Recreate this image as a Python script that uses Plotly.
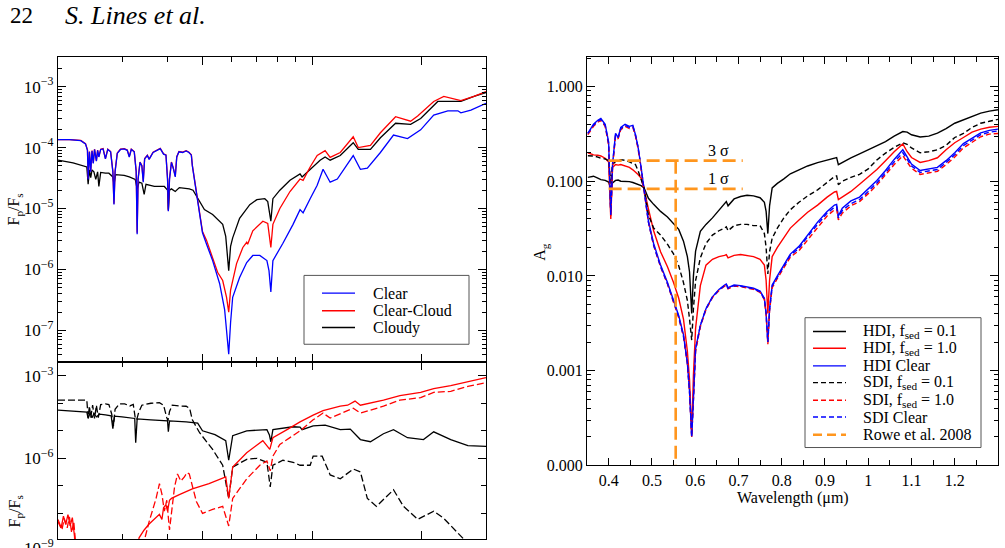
import plotly.graph_objects as go

# ---------------- DATA ----------------
# Left panel, top: F_p/F_s vs wavelength (micron)
CLEAR_TOP = [(0.200,1.35e-4),(0.215,1.35e-4),(0.231,1.30e-4),(0.238,1.15e-4),(0.241,9.0e-5),(0.242,3.0e-5),(0.244,8.5e-5),(0.246,4.0e-5),(0.248,8.8e-5),(0.250,5.5e-5),(0.252,9.3e-5),(0.255,6.0e-5),(0.257,9.0e-5),(0.259,7.0e-5),(0.262,9.3e-5),(0.266,9.5e-5),(0.270,6.5e-5),(0.274,9.3e-5),(0.279,8.5e-5),(0.283,4.0e-5),(0.285,1.16e-5),(0.287,4.0e-5),(0.291,8.0e-5),(0.297,9.3e-5),(0.304,9.5e-5),(0.310,9.0e-5),(0.314,7.0e-5),(0.318,9.3e-5),(0.324,8.5e-5),(0.328,4.0e-5),(0.330,3.8e-6),(0.332,3.0e-5),(0.336,5.7e-5),(0.340,5.0e-5),(0.343,2.7e-5),(0.346,6.5e-5),(0.352,7.4e-5),(0.356,6.4e-5),(0.365,8.3e-5),(0.375,9.0e-5),(0.382,9.6e-5),(0.390,7.8e-5),(0.396,7.5e-5),(0.400,3.0e-5),(0.402,9.0e-6),(0.405,3.0e-5),(0.410,5.7e-5),(0.415,4.5e-5),(0.420,3.3e-5),(0.424,7.0e-5),(0.430,8.5e-5),(0.440,8.3e-5),(0.450,8.8e-5),(0.458,8.3e-5),(0.465,7.5e-5),(0.468,5.0e-5),(0.484,1.3e-5),(0.499,4.0e-6),(0.512,2.6e-6),(0.532,1.4e-6),(0.556,5.9e-7),(0.574,2.2e-7),(0.581,1.0e-7),(0.589,4.1e-8),(0.596,1.35e-7),(0.604,3.5e-7),(0.631,7.4e-7),(0.660,1.3e-6),(0.686,1.7e-6),(0.717,1.7e-6),(0.750,1.4e-6),(0.760,9.6e-7),(0.769,4.3e-7),(0.779,1.4e-6),(0.830,2.7e-6),(0.885,5.5e-6),(0.925,9.6e-6),(0.943,8.5e-6),(0.986,1.45e-5),(1.031,2.4e-5),(1.070,4.4e-5),(1.119,2.7e-5),(1.171,3.05e-5),(1.295,7.4e-5),(1.355,4.4e-5),(1.416,4.6e-5),(1.538,8.3e-5),(1.671,1.6e-4),(1.826,1.4e-4),(1.984,1.95e-4),(2.155,3.4e-4),(2.356,4.0e-4),(2.511,4.0e-4),(2.559,3.7e-4),(2.727,4.1e-4),(3.0,5.3e-4)]

CLEARCLOUD_TOP = [(0.200,1.35e-4),(0.215,1.35e-4),(0.231,1.31e-4),(0.238,1.16e-4),(0.241,9.2e-5),(0.242,3.1e-5),(0.244,8.6e-5),(0.246,4.1e-5),(0.248,8.9e-5),(0.250,5.6e-5),(0.252,9.4e-5),(0.255,6.1e-5),(0.257,9.1e-5),(0.259,7.1e-5),(0.262,9.4e-5),(0.266,9.6e-5),(0.270,6.6e-5),(0.274,9.4e-5),(0.279,8.6e-5),(0.283,4.1e-5),(0.285,1.2e-5),(0.287,4.1e-5),(0.291,8.1e-5),(0.297,9.4e-5),(0.304,9.6e-5),(0.310,9.1e-5),(0.314,7.1e-5),(0.318,9.4e-5),(0.324,8.6e-5),(0.328,4.1e-5),(0.330,4.0e-6),(0.332,3.1e-5),(0.336,5.8e-5),(0.340,5.1e-5),(0.343,2.8e-5),(0.346,6.6e-5),(0.352,7.5e-5),(0.356,6.5e-5),(0.365,8.4e-5),(0.375,9.1e-5),(0.382,9.7e-5),(0.390,7.9e-5),(0.396,7.6e-5),(0.400,3.1e-5),(0.402,9.2e-6),(0.405,3.1e-5),(0.410,5.8e-5),(0.415,4.6e-5),(0.420,3.4e-5),(0.424,7.1e-5),(0.430,8.6e-5),(0.440,8.4e-5),(0.450,8.9e-5),(0.458,8.4e-5),(0.465,7.6e-5),(0.468,5.1e-5),(0.484,1.35e-5),(0.499,4.2e-6),(0.512,3.0e-6),(0.532,1.56e-6),(0.549,9.0e-7),(0.567,6.6e-7),(0.581,3.5e-7),(0.589,2.0e-7),(0.596,4.6e-7),(0.619,1.25e-6),(0.644,2.3e-6),(0.660,2.8e-6),(0.664,2.6e-6),(0.686,4.3e-6),(0.731,6.2e-6),(0.754,5.7e-6),(0.769,2.3e-6),(0.779,5.5e-6),(0.814,1.0e-5),(0.868,1.9e-5),(0.925,3.05e-5),(0.943,2.9e-5),(0.986,4.8e-5),(1.031,7.4e-5),(1.084,8.9e-5),(1.119,6.9e-5),(1.193,8.3e-5),(1.295,1.5e-4),(1.337,1.0e-4),(1.444,1.08e-4),(1.538,1.75e-4),(1.693,3.2e-4),(1.862,2.7e-4),(1.947,3.3e-4),(2.155,5.7e-4),(2.297,6.9e-4),(2.559,5.9e-4),(2.780,6.9e-4),(3.0,8.3e-4)]

CLOUDY_TOP = [(0.200,6.2e-5),(0.220,5.6e-5),(0.240,4.8e-5),(0.242,2.5e-5),(0.244,4.3e-5),(0.246,3.2e-5),(0.248,4.3e-5),(0.251,4.0e-5),(0.254,3.0e-5),(0.257,4.0e-5),(0.259,2.3e-5),(0.262,3.9e-5),(0.270,3.8e-5),(0.276,3.8e-5),(0.283,3.3e-5),(0.285,2.5e-5),(0.288,3.6e-5),(0.295,3.6e-5),(0.304,3.5e-5),(0.314,3.3e-5),(0.326,3.0e-5),(0.330,2.1e-5),(0.334,2.7e-5),(0.340,2.6e-5),(0.345,1.7e-5),(0.349,2.5e-5),(0.368,2.3e-5),(0.392,2.3e-5),(0.400,2.0e-5),(0.402,9.6e-6),(0.405,2.0e-5),(0.410,2.1e-5),(0.420,1.9e-5),(0.431,2.2e-5),(0.459,2.1e-5),(0.470,2.0e-5),(0.484,1.45e-5),(0.505,9.6e-6),(0.532,8.0e-6),(0.567,5.5e-6),(0.578,3.5e-6),(0.589,9.6e-7),(0.596,2.4e-6),(0.604,3.3e-6),(0.631,6.9e-6),(0.660,1.0e-5),(0.673,1.16e-5),(0.704,1.4e-5),(0.740,1.45e-5),(0.754,1.3e-5),(0.769,6.2e-6),(0.779,1.45e-5),(0.814,2.0e-5),(0.868,2.9e-5),(0.925,3.7e-5),(0.937,3.3e-5),(0.986,4.4e-5),(1.050,6.2e-5),(1.084,7.0e-5),(1.119,6.2e-5),(1.193,7.4e-5),(1.295,1.2e-4),(1.337,9.3e-5),(1.444,9.3e-5),(1.538,1.45e-4),(1.693,2.5e-4),(1.862,2.4e-4),(1.984,3.0e-4),(2.211,5.7e-4),(2.559,5.7e-4),(2.780,6.9e-4),(3.0,8.0e-4)]

# Left panel, bottom (partly visible)
BOT_BLACK_SOLID = [(0.200,5.6e-5),(0.240,4.8e-5),(0.242,2.8e-5),(0.245,4.4e-5),(0.248,3.0e-5),(0.251,4.2e-5),(0.255,3.2e-5),(0.260,4.0e-5),(0.270,3.8e-5),(0.280,3.5e-5),(0.283,1.2e-5),(0.286,3.4e-5),(0.300,3.2e-5),(0.325,2.8e-5),(0.327,3.7e-6),(0.330,2.7e-5),(0.360,2.5e-5),(0.400,2.3e-5),(0.402,9.2e-6),(0.405,2.3e-5),(0.450,2.1e-5),(0.484,1.9e-5),(0.499,1.0e-5),(0.540,7.2e-6),(0.578,4.4e-6),(0.589,8.5e-7),(0.604,6.6e-6),(0.660,1.0e-5),(0.750,1.1e-5),(0.762,7.0e-6),(0.769,4.0e-6),(0.779,1.1e-5),(0.885,1.4e-5),(0.925,1.35e-5),(0.937,1.1e-5),(1.005,1.5e-5),(1.084,1.6e-5),(1.193,1.1e-5),(1.271,1.15e-5),(1.355,4.8e-6),(1.444,4.0e-6),(1.568,7.8e-6),(1.671,1.1e-5),(1.826,5.6e-6),(2.020,4.8e-6),(2.155,9.2e-6),(2.400,4.8e-6),(2.675,2.9e-6),(3.0,2.7e-6)]

BOT_BLACK_DASH = [(0.200,1.3e-4),(0.240,1.3e-4),(0.242,3.0e-5),(0.244,8.0e-5),(0.246,3.0e-5),(0.249,8.5e-5),(0.252,2.8e-5),(0.255,8.5e-5),(0.258,3.0e-5),(0.262,9.0e-5),(0.270,9.5e-5),(0.276,9.0e-5),(0.281,4.0e-5),(0.284,1.5e-5),(0.287,6.0e-5),(0.295,9.5e-5),(0.305,9.5e-5),(0.315,8.0e-5),(0.322,9.0e-5),(0.326,3.0e-5),(0.329,2.5e-5),(0.333,4.5e-5),(0.340,8.5e-5),(0.360,1.0e-4),(0.380,1.05e-4),(0.390,8.5e-5),(0.398,3.0e-5),(0.401,2.3e-5),(0.405,5.0e-5),(0.412,8.5e-5),(0.430,8.0e-5),(0.450,7.8e-5),(0.460,6.5e-5),(0.468,2.5e-5),(0.490,8.5e-6),(0.532,2.1e-6),(0.567,5.6e-7),(0.589,3.5e-8),(0.604,4.8e-7),(0.660,9.2e-7),(0.704,1.0e-6),(0.750,7.2e-7),(0.766,9.2e-8),(0.779,5.6e-7),(0.830,8.5e-7),(0.885,7.2e-7),(0.925,5.6e-7),(0.986,5.6e-7),(1.005,1.2e-6),(1.064,1.2e-6),(1.119,2.5e-7),(1.193,1.8e-7),(1.295,4.1e-7),(1.355,3.2e-7),(1.416,3.5e-8),(1.500,1.8e-8),(1.671,7.2e-8),(1.780,1.8e-8),(1.947,6.1e-9),(2.155,1.2e-8),(2.297,6.6e-9),(2.511,1.9e-9),(2.600,1.2e-9),(2.750,3.0e-10)]

BOT_RED_SOLID = [(0.200,6.0e-9),(0.204,3.0e-9),(0.207,8.0e-9),(0.210,4.0e-9),(0.213,9.0e-9),(0.216,3.5e-9),(0.219,7.0e-9),(0.222,1.5e-9),(0.226,1.0e-11),(0.320,1.0e-11),(0.334,1.3e-9),(0.345,2.5e-9),(0.356,4.1e-9),(0.368,6.0e-9),(0.380,9.2e-9),(0.386,6.0e-9),(0.390,1.6e-8),(0.396,2.1e-8),(0.400,1.2e-8),(0.405,3.0e-8),(0.410,3.5e-8),(0.431,4.8e-8),(0.468,7.8e-8),(0.520,1.2e-7),(0.578,2.1e-7),(0.589,3.5e-8),(0.604,4.8e-7),(0.660,1.6e-6),(0.717,3.7e-6),(0.731,4.4e-6),(0.764,2.1e-6),(0.779,5.6e-6),(0.852,1.1e-5),(0.925,2.1e-5),(1.005,3.7e-5),(1.070,5.4e-5),(1.193,7.8e-5),(1.250,8.5e-5),(1.310,1.2e-4),(1.355,8.5e-5),(1.568,1.3e-4),(1.740,1.9e-4),(1.984,2.5e-4),(2.155,3.4e-4),(2.400,4.4e-4),(2.675,6.1e-4),(3.0,8.5e-4)]

BOT_RED_DASH = [(0.200,5.0e-9),(0.205,2.5e-9),(0.208,6.5e-9),(0.212,3.0e-9),(0.215,7.5e-9),(0.218,2.0e-9),(0.221,5.0e-9),(0.224,5.0e-10),(0.230,1.0e-11),(0.330,1.0e-11),(0.345,1.0e-9),(0.356,5.0e-9),(0.372,3.5e-8),(0.380,1.2e-7),(0.386,5.0e-8),(0.392,1.2e-8),(0.398,3.0e-8),(0.405,2.5e-9),(0.418,9.0e-8),(0.426,2.7e-7),(0.435,1.5e-7),(0.445,2.1e-7),(0.452,3.0e-7),(0.459,2.7e-7),(0.480,2.7e-8),(0.499,1.0e-8),(0.532,1.4e-8),(0.567,1.8e-8),(0.589,3.5e-9),(0.604,3.5e-8),(0.660,1.8e-7),(0.717,5.6e-7),(0.750,8.0e-7),(0.766,3.5e-7),(0.779,1.2e-6),(0.814,3.2e-6),(0.925,1.0e-5),(1.005,2.5e-5),(1.070,4.4e-5),(1.119,2.9e-5),(1.200,4.4e-5),(1.295,6.6e-5),(1.355,4.4e-5),(1.568,7.8e-5),(1.740,1.3e-4),(1.984,1.6e-4),(2.155,2.5e-4),(2.400,2.7e-4),(2.675,4.1e-4),(3.0,5.6e-4)]

# Right panel: geometric albedo A_g vs wavelength (micron)
WL_R = [0.352, 0.365, 0.375, 0.382, 0.392, 0.400, 0.405, 0.409, 0.416, 0.422,
        0.428, 0.438, 0.448, 0.456, 0.462, 0.468, 0.475, 0.482, 0.492, 0.504,
        0.520, 0.536, 0.550, 0.562, 0.573, 0.582, 0.587, 0.592, 0.596, 0.601,
        0.612, 0.625, 0.640, 0.655, 0.668, 0.672, 0.676, 0.690, 0.705, 0.720,
        0.735, 0.750, 0.760, 0.764, 0.768, 0.772, 0.778, 0.790, 0.805, 0.820,
        0.840, 0.860, 0.883, 0.905, 0.922, 0.927, 0.931, 0.940, 0.960, 0.980,
        1.000, 1.020, 1.040, 1.060, 1.080, 1.090, 1.100, 1.120, 1.140, 1.160,
        1.180, 1.200, 1.220, 1.240, 1.260, 1.280, 1.300]

HDI_01 = [0.110, 0.113, 0.108, 0.104, 0.102, 0.098, 0.083, 0.096, 0.102, 0.103,
          0.100, 0.100, 0.099, 0.097, 0.095, 0.093, 0.090, 0.085, 0.066, 0.057,
          0.048, 0.042, 0.036, 0.031, 0.0233, 0.016, 0.011, 0.004, 0.010, 0.0183,
          0.0296, 0.035, 0.041, 0.049, 0.058, 0.061, 0.055, 0.065, 0.069, 0.071,
          0.070, 0.067, 0.060, 0.048, 0.028, 0.055, 0.085, 0.095, 0.106, 0.120,
          0.132, 0.145, 0.157, 0.166, 0.176, 0.178, 0.150, 0.158, 0.177, 0.195,
          0.215, 0.240, 0.262, 0.300, 0.335, 0.330, 0.310, 0.293, 0.300, 0.323,
          0.360, 0.410, 0.445, 0.490, 0.525, 0.550, 0.570]

HDI_10 = [0.200, 0.190, 0.188, 0.185, 0.175, 0.160, 0.040, 0.140, 0.150, 0.148,
          0.150, 0.145, 0.140, 0.132, 0.125, 0.118, 0.108, 0.082, 0.051, 0.030,
          0.018, 0.0125, 0.0085, 0.0058, 0.0035, 0.0016, 0.0008, 0.00021, 0.0009, 0.0028,
          0.0079, 0.013, 0.0150, 0.0160, 0.0165, 0.0168, 0.0155, 0.0165, 0.0168, 0.0165,
          0.0160, 0.0150, 0.0130, 0.0090, 0.0040, 0.0090, 0.0160, 0.0200, 0.0250, 0.032,
          0.039, 0.047, 0.056, 0.068, 0.077, 0.078, 0.064, 0.068, 0.078, 0.093,
          0.110, 0.133, 0.165, 0.205, 0.248, 0.205, 0.178, 0.158, 0.165, 0.177,
          0.215, 0.255, 0.290, 0.330, 0.355, 0.372, 0.380]

HDI_CLEAR = [0.32, 0.40, 0.44, 0.46, 0.40, 0.26, 0.045, 0.15, 0.32, 0.29,
             0.37, 0.40, 0.38, 0.39, 0.31, 0.23, 0.14, 0.085, 0.038, 0.022,
             0.013, 0.0085, 0.0055, 0.0038, 0.0024, 0.0012, 0.0006, 0.0002, 0.0005, 0.0017,
             0.0030, 0.0045, 0.0060, 0.0072, 0.0080, 0.0082, 0.0075, 0.0080, 0.0079, 0.0077,
             0.0074, 0.0069, 0.0058, 0.0040, 0.0020, 0.0045, 0.0080, 0.0100, 0.0130, 0.017,
             0.0205, 0.027, 0.037, 0.048, 0.056, 0.057, 0.043, 0.052, 0.062, 0.068,
             0.083, 0.102, 0.130, 0.170, 0.215, 0.180, 0.152, 0.130, 0.135, 0.140,
             0.165, 0.200, 0.250, 0.285, 0.325, 0.345, 0.355]

SDI_01 = [0.186, 0.185, 0.180, 0.175, 0.172, 0.165, 0.095, 0.150, 0.162, 0.168,
          0.169, 0.166, 0.160, 0.155, 0.150, 0.130, 0.105, 0.085, 0.044, 0.032,
          0.027, 0.0216, 0.0171, 0.0128, 0.0085, 0.0055, 0.0035, 0.0021, 0.0045, 0.0089,
          0.0155, 0.022, 0.027, 0.030, 0.032, 0.033, 0.030, 0.034, 0.035, 0.035,
          0.034, 0.034, 0.028, 0.020, 0.0105, 0.018, 0.025, 0.032, 0.041, 0.050,
          0.060, 0.070, 0.081, 0.097, 0.112, 0.114, 0.092, 0.100, 0.110, 0.118,
          0.135, 0.168, 0.198, 0.228, 0.255, 0.245, 0.225, 0.200, 0.205, 0.215,
          0.240, 0.290, 0.320, 0.370, 0.410, 0.430, 0.450]

SDI_10 = [0.31, 0.38, 0.42, 0.44, 0.38, 0.24, 0.043, 0.14, 0.30, 0.28,
          0.35, 0.38, 0.36, 0.37, 0.30, 0.22, 0.135, 0.080, 0.037, 0.021,
          0.0125, 0.0082, 0.0053, 0.0036, 0.0023, 0.0012, 0.0006, 0.0002, 0.0005, 0.0016,
          0.0029, 0.0044, 0.0059, 0.0070, 0.0078, 0.0080, 0.0073, 0.0078, 0.0077, 0.0075,
          0.0072, 0.0067, 0.0056, 0.0039, 0.0019, 0.0043, 0.0075, 0.0094, 0.0120, 0.0158,
          0.0185, 0.024, 0.033, 0.043, 0.050, 0.051, 0.039, 0.046, 0.055, 0.061,
          0.074, 0.091, 0.117, 0.150, 0.186, 0.160, 0.137, 0.118, 0.122, 0.127,
          0.150, 0.180, 0.225, 0.258, 0.295, 0.315, 0.320]

SDI_CLEAR = [0.32, 0.39, 0.43, 0.45, 0.39, 0.25, 0.044, 0.15, 0.31, 0.29,
             0.36, 0.39, 0.37, 0.38, 0.31, 0.23, 0.14, 0.082, 0.037, 0.021,
             0.0126, 0.0083, 0.0054, 0.0037, 0.0023, 0.0012, 0.0006, 0.0002, 0.0005, 0.0017,
             0.0030, 0.0045, 0.0060, 0.0071, 0.0079, 0.0081, 0.0074, 0.0079, 0.0078, 0.0076,
             0.0073, 0.0068, 0.0057, 0.0040, 0.0020, 0.0044, 0.0078, 0.0097, 0.0125, 0.0165,
             0.0195, 0.026, 0.035, 0.046, 0.053, 0.054, 0.041, 0.049, 0.058, 0.064,
             0.078, 0.096, 0.123, 0.160, 0.200, 0.170, 0.145, 0.124, 0.128, 0.133,
             0.158, 0.190, 0.238, 0.272, 0.310, 0.330, 0.340]

# Rowe et al. 2008 limits
ROWE_BAND = [0.40, 0.71]
ROWE_3SIG = 0.165
ROWE_1SIG = 0.083
ROWE_WL = 0.555
ROWE_FLOOR = 1.0e-4

LEFT_YTICKS = [1e-7, 1e-6, 1e-5, 1e-4, 1e-3]
LEFT_YTEXT = ["10<sup>−7</sup>", "10<sup>−6</sup>", "10<sup>−5</sup>", "10<sup>−4</sup>", "10<sup>−3</sup>"]
BOT_YTICKS = [1e-9, 1e-6, 1e-3]
BOT_YTEXT = ["10<sup>−9</sup>", "10<sup>−6</sup>", "10<sup>−3</sup>"]
R_XTICKS = [0.4, 0.5, 0.6, 0.7, 0.8, 0.9, 1.0, 1.1, 1.2]
R_XTEXT = ["0.4", "0.5", "0.6", "0.7", "0.8", "0.9", "1", "1.1", "1.2"]
R_YTICKS = [1e-4, 1e-3, 1e-2, 1e-1, 1.0]
R_YTEXT = ["0.000", "0.001", "0.010", "0.100", "1.000"]

LEFT_LEGEND = [("Clear", "#0000ff", "solid"), ("Clear-Cloud", "#ff0000", "solid"),
               ("Cloudy", "#000000", "solid")]
RIGHT_LEGEND = [("HDI, f<sub>sed</sub> = 0.1", "#000000", "solid"),
                ("HDI, f<sub>sed</sub> = 1.0", "#ff0000", "solid"),
                ("HDI Clear", "#0000ff", "solid"),
                ("SDI, f<sub>sed</sub> = 0.1", "#000000", "5px,3px"),
                ("SDI, f<sub>sed</sub> = 1.0", "#ff0000", "5px,3px"),
                ("SDI Clear", "#0000ff", "5px,3px"),
                ("Rowe et al. 2008", "#ff961e", "9px,5px")]

# ---------------- FIGURE ----------------
W, H = 1005, 548
FONT = "Liberation Serif, Times New Roman, Times, serif"
BLUE, RED, BLACK, ORANGE = "#0000ff", "#ff0000", "#000000", "#ff961e"


def fx(p):
    return p / W


def fy(p):
    return 1 - p / H


def unzip(pairs):
    return [p[0] for p in pairs], [p[1] for p in pairs]


fig = go.Figure()

# left top
for pairs, name, col in [(CLOUDY_TOP, "Cloudy", BLACK),
                         (CLEARCLOUD_TOP, "Clear-Cloud", RED),
                         (CLEAR_TOP, "Clear", BLUE)]:
    x, y = unzip(pairs)
    fig.add_trace(go.Scatter(x=x, y=y, mode="lines", name=name, showlegend=False,
                             line=dict(color=col, width=1.3), xaxis="x", yaxis="y"))

# left bottom
for pairs, col, dash in [(BOT_BLACK_SOLID, BLACK, "solid"), (BOT_BLACK_DASH, BLACK, "7px,3px"),
                         (BOT_RED_SOLID, RED, "solid"), (BOT_RED_DASH, RED, "7px,3px")]:
    x, y = unzip(pairs)
    fig.add_trace(go.Scatter(x=x, y=y, mode="lines", showlegend=False,
                             line=dict(color=col, width=1.3, dash=dash), xaxis="x2", yaxis="y2"))

# right
right_series = [
    (HDI_01, RIGHT_LEGEND[0][0], BLACK, "solid"),
    (HDI_10, RIGHT_LEGEND[1][0], RED, "solid"),
    (HDI_CLEAR, RIGHT_LEGEND[2][0], BLUE, "solid"),
    (SDI_01, RIGHT_LEGEND[3][0], BLACK, "5px,3px"),
    (SDI_10, RIGHT_LEGEND[4][0], RED, "5px,3px"),
    (SDI_CLEAR, RIGHT_LEGEND[5][0], BLUE, "5px,3px"),
]
for vals, name, col, dash in right_series:
    fig.add_trace(go.Scatter(x=WL_R, y=vals, mode="lines", name=name, showlegend=False,
                             line=dict(color=col, width=1.4, dash=dash),
                             xaxis="x3", yaxis="y3"))

rowe_x = [ROWE_BAND[0], ROWE_BAND[1], None, ROWE_BAND[0], ROWE_BAND[1], None, ROWE_WL, ROWE_WL]
rowe_y = [ROWE_3SIG, ROWE_3SIG, None, ROWE_1SIG, ROWE_1SIG, None, ROWE_3SIG, ROWE_FLOOR]
fig.add_trace(go.Scatter(x=rowe_x, y=rowe_y, mode="lines", name="Rowe et al. 2008",
                         showlegend=False,
                         line=dict(color=ORANGE, width=2.6, dash="13px,6px"),
                         xaxis="x3", yaxis="y3"))

tickfont = dict(family=FONT, size=17, color="black")
axis_common = dict(showline=True, linecolor="black", linewidth=1.2, mirror="ticks",
                   ticks="inside", tickcolor="black", showgrid=False, zeroline=False)

LX0, LX1 = 58, 486
RX0, RX1 = 587, 998
TOP, MID, RBOT = 58, 368, 473

left_minor_x = [0.2, 0.3, 0.4, 0.6, 0.7, 0.8, 0.9]
left_minor_y = [m * 10.0 ** e for e in range(-8, -2) for m in range(2, 10)]
right_minor_y = [m * 10.0 ** e for e in range(-4, 1) for m in range(2, 10)]
right_minor_x = [0.35, 0.45, 0.55, 0.65, 0.75, 0.85, 0.95, 1.05, 1.15, 1.25]

fig.update_layout(
    width=W, height=H, autosize=False,
    margin=dict(l=0, r=0, t=0, b=0),
    paper_bgcolor="white", plot_bgcolor="white",
    font=dict(family=FONT, color="black"),
    showlegend=False,
    xaxis=dict(axis_common, domain=[fx(LX0), fx(LX1)], anchor="y", type="log",
               range=[-0.69897, 0.47712], tickvals=[0.5, 1, 2], ticklen=8,
               showticklabels=False,
               minor=dict(tickvals=left_minor_x, ticks="inside", ticklen=5, tickcolor="black")),
    yaxis=dict(axis_common, domain=[fy(MID), fy(TOP)], anchor="x", type="log",
               range=[-7.516, -2.516], tickvals=LEFT_YTICKS, ticktext=LEFT_YTEXT,
               ticklen=8, tickfont=tickfont,
               minor=dict(tickvals=left_minor_y, ticks="inside", ticklen=4, tickcolor="black")),
    xaxis2=dict(axis_common, domain=[fx(LX0), fx(LX1)], anchor="y2", type="log",
                range=[-0.69897, 0.47712], tickvals=[0.5, 1, 2], ticklen=8,
                showticklabels=False,
                minor=dict(tickvals=left_minor_x, ticks="inside", ticklen=5, tickcolor="black")),
    yaxis2=dict(axis_common, domain=[0, fy(MID)], anchor="x2", type="log",
                range=[-8.93, -2.5], tickvals=BOT_YTICKS, ticktext=BOT_YTEXT,
                ticklen=8, tickfont=tickfont,
                minor=dict(tickvals=[1e-8, 1e-7, 1e-5, 1e-4], ticks="inside", ticklen=5,
                           tickcolor="black")),
    xaxis3=dict(axis_common, domain=[fx(RX0), fx(RX1)], anchor="y3",
                range=[0.35, 1.30], tickvals=R_XTICKS, ticktext=R_XTEXT, ticklen=7,
                tickfont=dict(family=FONT, size=16, color="black"),
                minor=dict(tickvals=right_minor_x, ticks="inside", ticklen=5, tickcolor="black")),
    yaxis3=dict(axis_common, domain=[fy(RBOT), fy(TOP)], anchor="x3", type="log",
                range=[-4, 0.312], tickvals=R_YTICKS, ticktext=R_YTEXT, ticklen=8,
                tickfont=dict(family=FONT, size=16, color="black"),
                minor=dict(tickvals=right_minor_y, ticks="inside", ticklen=4, tickcolor="black")),
)

shapes = []
ann = []


def add_legend(entries, box, line_x, text_x, row_y):
    x0, y0, x1, y1 = box
    shapes.append(dict(type="rect", xref="paper", yref="paper",
                       x0=fx(x0), x1=fx(x1), y0=fy(y1), y1=fy(y0),
                       line=dict(color="#555555", width=1), fillcolor="white", layer="above"))
    for (label, col, dash), ry in zip(entries, row_y):
        wdt = 2.6 if col == ORANGE else 1.4
        shapes.append(dict(type="line", xref="paper", yref="paper",
                           x0=fx(line_x[0]), x1=fx(line_x[1]), y0=fy(ry), y1=fy(ry),
                           line=dict(color=col, width=wdt, dash=dash), layer="above"))
        ann.append(dict(text=label, x=fx(text_x), y=fy(ry), xanchor="left", yanchor="middle",
                        font=dict(family=FONT, size=16, color="black")))


add_legend(LEFT_LEGEND, (304, 280, 469, 350), (322, 355), 371, [298, 316, 333])
add_legend(RIGHT_LEGEND, (805, 323, 981, 455), (813, 846), 861,
           [337, 354, 372, 389, 407, 424, 442])

ann += [
    dict(text="22", x=fx(8), y=fy(16), xanchor="left", yanchor="middle",
         font=dict(family=FONT, size=23)),
    dict(text="<i>S. Lines et al.</i>", x=fx(63), y=fy(16), xanchor="left", yanchor="middle",
         font=dict(family=FONT, size=26)),
    dict(text="F<sub>p</sub>/F<sub>s</sub>", x=fx(15), y=fy(213), textangle=-90,
         xanchor="center", yanchor="middle", font=dict(family=FONT, size=16)),
    dict(text="F<sub>p</sub>/F<sub>s</sub>", x=fx(15), y=fy(520), textangle=-90,
         xanchor="center", yanchor="middle", font=dict(family=FONT, size=16)),
    dict(text="10<sup>−9</sup>", x=fx(56), y=fy(556), xanchor="right", yanchor="middle",
         font=dict(family=FONT, size=17)),
    dict(text="A<sub>g</sub>", x=fx(541), y=fy(256), textangle=-90,
         xanchor="center", yanchor="middle", font=dict(family=FONT, size=16)),
    dict(text="Wavelength (μm)", x=fx(793), y=fy(506), xanchor="center", yanchor="middle",
         font=dict(family=FONT, size=16)),
    dict(text="3 σ", x=fx(718), y=fy(153), xanchor="center", yanchor="middle",
         font=dict(family=FONT, size=16)),
    dict(text="1 σ", x=fx(718), y=fy(181), xanchor="center", yanchor="middle",
         font=dict(family=FONT, size=16)),
]
for a in ann:
    a.update(xref="paper", yref="paper", showarrow=False)
fig.update_layout(annotations=ann, shapes=shapes)

fig.write_html("out.html")
